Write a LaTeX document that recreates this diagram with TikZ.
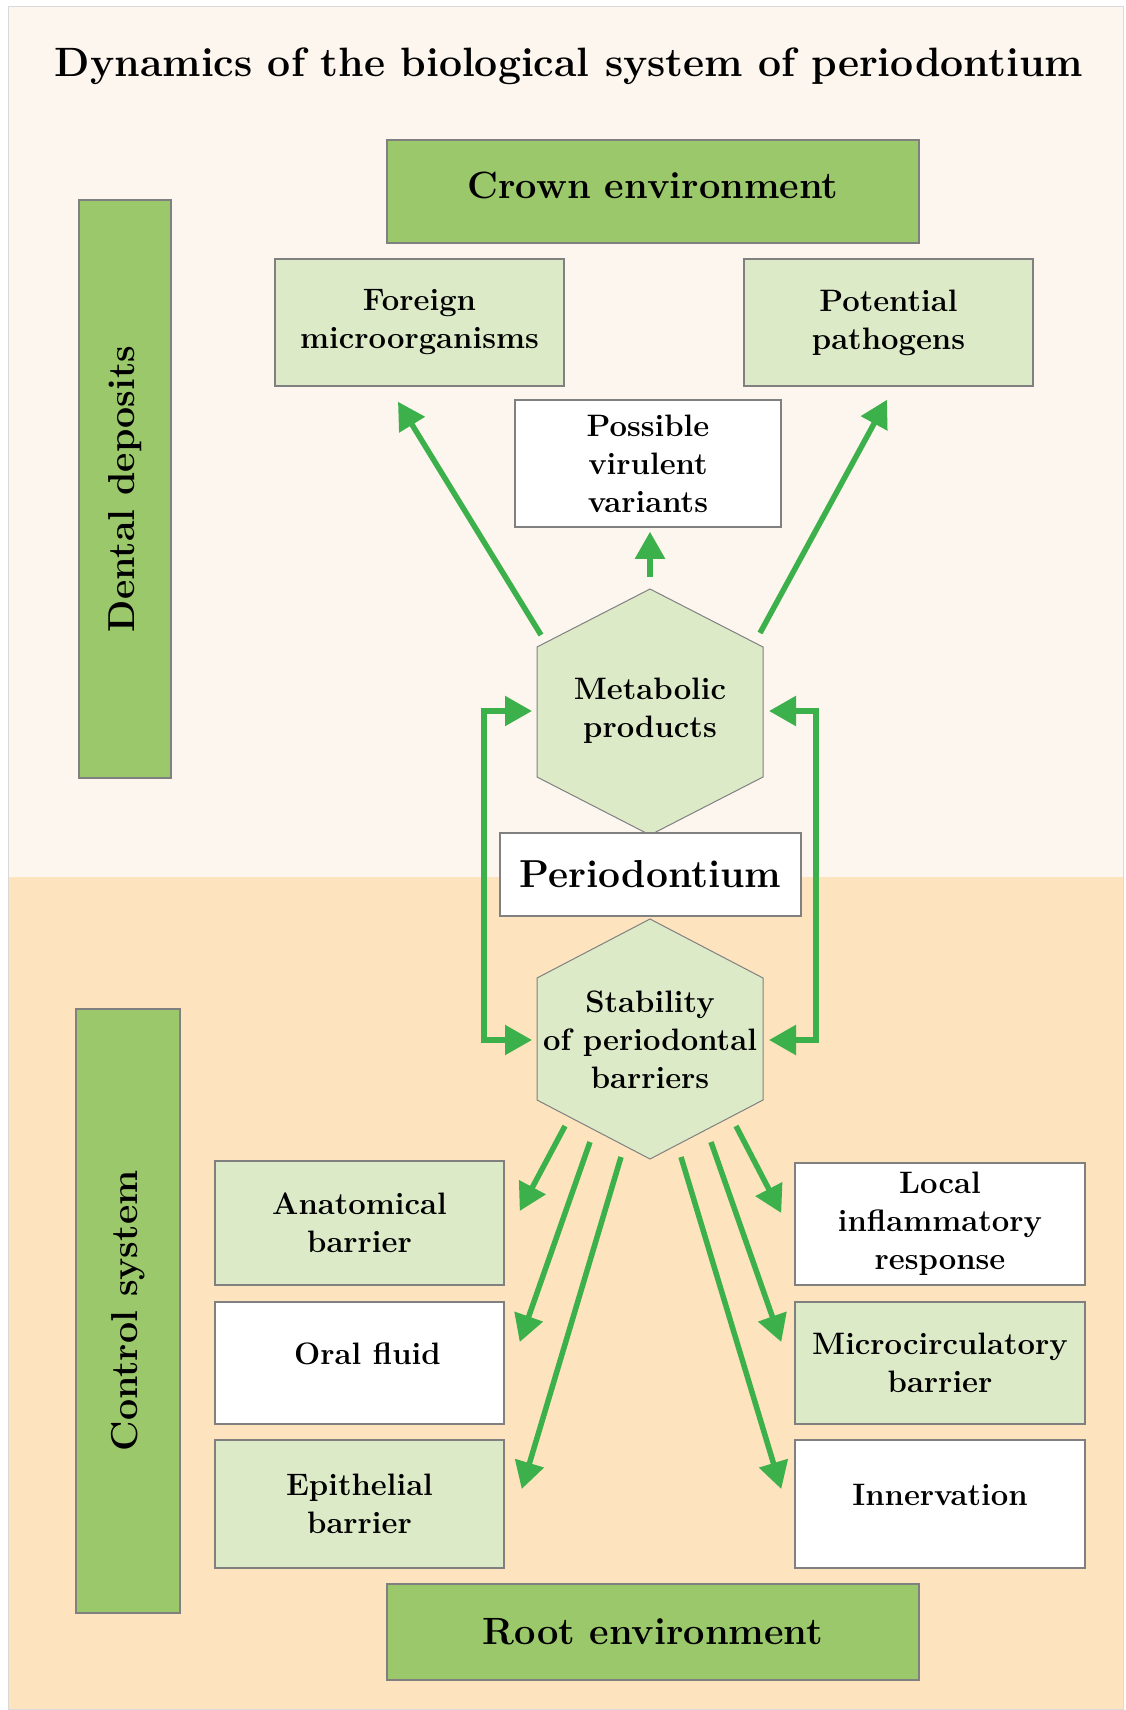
\documentclass[tikz,border=0pt]{standalone}
\usetikzlibrary{arrows.meta,calc}
\definecolor{dkgreen}{RGB}{155,200,107}
\definecolor{ltgreen}{RGB}{221,234,200}
\definecolor{creambg}{RGB}{253,246,239}
\definecolor{peachbg}{RGB}{253,228,190}
\definecolor{arrowgreen}{RGB}{60,176,74}
\definecolor{edgegray}{RGB}{128,128,128}
\begin{document}
\begin{tikzpicture}[x=1pt,y=-1pt,
  box/.style={draw=edgegray, line width=1.5pt, inner sep=0pt, align=center,
    font=\fontsize{31}{38}\selectfont\bfseries},
  lbox/.style={box, fill=ltgreen},
  wbox/.style={box, fill=white},
  dbox/.style={box, fill=dkgreen, font=\fontsize{38}{44}\selectfont\bfseries},
  oneline/.style={text height=22pt, text depth=19pt},
  hexshape/.style={draw=edgegray, line width=1pt, fill=ltgreen},
  hextext/.style={inner sep=0pt, align=center, font=\fontsize{31}{38}\selectfont\bfseries},
  conn/.style={draw=arrowgreen, line width=5.5pt, -{Triangle[length=27pt,width=29pt]}},
  twoway/.style={draw=arrowgreen, line width=5.5pt,
    {Triangle[length=27pt,width=29pt]}-{Triangle[length=27pt,width=29pt]}},
]
\useasboundingbox (0,0) rectangle (1126,1710);
% background
\fill[creambg] (8,7) rectangle (1123,877);
\fill[peachbg] (8,877) rectangle (1123,1709);
\draw[black!15, line width=1pt] (8,7) rectangle (1123,1709);

% title
\node[anchor=base, inner sep=0pt, font=\fontsize{41}{48}\selectfont\bfseries] (title) at (569,77)
  {Dynamics of the biological system of periodontium};

% hexagons
\coordinate (metc) at (650,711);
\filldraw[hexshape] ($(metc)+(0,-122)$) -- ++(113,58) -- ++(0,130) -- ++(-113,58)
  -- ++(-113,-58) -- ++(0,-130) -- cycle;
\node[hextext] (met) at (metc) {Metabolic\\products};

\coordinate (stabc) at (650,1040);
\filldraw[hexshape] ($(stabc)+(0,-121)$) -- ++(113,59) -- ++(0,122) -- ++(-113,59)
  -- ++(-113,-59) -- ++(0,-122) -- cycle;
\node[hextext] (stab) at (stabc) {Stability\\of periodontal\\barriers};

% boxes
\node[dbox, minimum width=532pt, minimum height=103pt, text height=27pt, text depth=14pt] (crown) at (653,191.5) {Crown environment};
\node[dbox, minimum width=532pt, minimum height=96pt] (root) at (653,1632) {Root environment};
\node[dbox, rotate=90, minimum width=578pt, minimum height=92pt, font=\fontsize{37.5}{44}\selectfont\bfseries] (dental) at (125,489) {Dental deposits};
\node[dbox, rotate=90, minimum width=604pt, minimum height=104pt, font=\fontsize{37.5}{44}\selectfont\bfseries] (control) at (128,1311) {Control system};

\node[lbox, minimum width=289pt, minimum height=127pt] (foreign) at (419.5,322.5) {Foreign\\microorganisms};
\node[lbox, minimum width=289pt, minimum height=127pt] (potential) at (888.5,322.5) {Potential\\pathogens};
\node[wbox, minimum width=266pt, minimum height=127pt] (virulent) at (648,463.5) {Possible\\virulent\\variants};

\node[wbox, minimum width=301pt, minimum height=83pt, font=\fontsize{39}{44}\selectfont\bfseries] (perio) at (650.5,874.5) {Periodontium};

\node[lbox, minimum width=289pt, minimum height=124pt] (anat) at (359.5,1223) {Anatomical\\barrier};
\node[wbox, oneline, minimum width=289pt, minimum height=122pt] (oral) at (359.5,1363) {\hspace*{16pt}Oral fluid};
\node[lbox, minimum width=289pt, minimum height=128pt] (epi) at (359.5,1504) {Epithelial\\barrier};
\node[wbox, minimum width=290pt, minimum height=122pt] (local) at (940,1224) {Local\\inflammatory\\response};
\node[lbox, minimum width=290pt, minimum height=122pt] (micro) at (940,1363) {Microcirculatory\\barrier};
\node[wbox, oneline, minimum width=290pt, minimum height=128pt] (innerv) at (940,1504) {Innervation};

% connectors
\draw[conn] ($(met)+(-109,-76)$) -- ($(foreign.south)+(-21.5,15)$);
\draw[conn] ($(met)+(0,-134)$) -- ($(virulent.south)+(2,4)$);
\draw[conn] ($(met)+(110,-78)$) -- ($(potential.south)+(-1.5,13)$);
\draw[twoway] ($(met)+(-118,0)$) -- ($(met)+(-166,0)$) -- ($(stab)+(-166,0)$) -- ($(stab)+(-118,0)$);
\draw[twoway] ($(met)+(119,0)$) -- ($(met)+(166,0)$) -- ($(stab)+(166,0)$) -- ($(stab)+(119,0)$);
\draw[conn] ($(stab)+(-85,86)$) -- ($(anat.east)+(15,-12)$);
\draw[conn] ($(stab)+(-60,102)$) -- ($(oral.east)+(15,-21)$);
\draw[conn] ($(stab)+(-29,117)$) -- ($(epi.east)+(17,-15)$);
\draw[conn] ($(stab)+(86,86)$) -- ($(local.west)+(-13,-11)$);
\draw[conn] ($(stab)+(61,102)$) -- ($(micro.west)+(-13,-21)$);
\draw[conn] ($(stab)+(31,117)$) -- ($(innerv.west)+(-13,-15)$);
\end{tikzpicture}
\end{document}
